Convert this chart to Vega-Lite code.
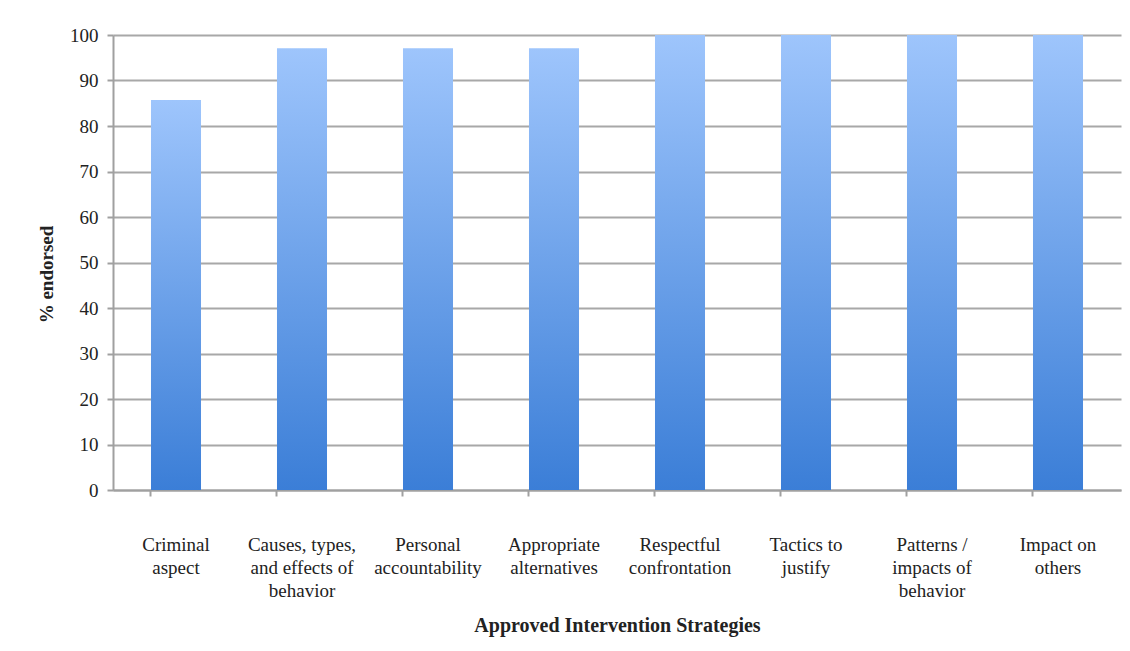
{
  "$schema": "https://vega.github.io/schema/vega-lite/v6.json",
  "autosize": "none",
  "width": 1008,
  "height": 455,
  "padding": {"left": 113, "top": 35, "right": 9, "bottom": 161},
  "background": "white",
  "config": {
    "view": {"stroke": null},
    "font": "Liberation Serif"
  },
  "data": {
    "values": [
      {"strategy": "Criminal|aspect", "pct": 85.7},
      {"strategy": "Causes, types,|and effects of|behavior", "pct": 97.1},
      {"strategy": "Personal|accountability", "pct": 97.1},
      {"strategy": "Appropriate|alternatives", "pct": 97.1},
      {"strategy": "Respectful|confrontation", "pct": 100},
      {"strategy": "Tactics to|justify", "pct": 100},
      {"strategy": "Patterns /|impacts of|behavior", "pct": 100},
      {"strategy": "Impact on|others", "pct": 100}
    ]
  },
  "mark": {
    "type": "bar",
    "color": {
      "gradient": "linear",
      "x1": 0, "y1": 0, "x2": 0, "y2": 1,
      "stops": [
        {"offset": 0, "color": "#9ec5fc"},
        {"offset": 1, "color": "#3b7ed7"}
      ]
    }
  },
  "encoding": {
    "x": {
      "field": "strategy",
      "type": "nominal",
      "sort": null,
      "scale": {"paddingInner": 0.603, "paddingOuter": 0.3015},
      "axis": {
        "title": "Approved Intervention Strategies",
        "titleFont": "Liberation Serif",
        "titleFontSize": 20,
        "titleFontWeight": "bold",
        "titleColor": "#222222",
        "titlePadding": 15,
        "labelExpr": "split(datum.value, '|')",
        "labelAngle": 0,
        "labelFont": "Liberation Serif",
        "labelFontSize": 19,
        "labelColor": "#222222",
        "labelLineHeight": 23,
        "labelPadding": 39,
        "labelBaseline": "top",
        "bandPosition": 0,
        "ticks": true,
        "tickSize": 6,
        "tickColor": "#a0a0a0",
        "tickWidth": 2,
        "domainColor": "#a0a0a0",
        "domainWidth": 2,
        "grid": false
      }
    },
    "y": {
      "field": "pct",
      "type": "quantitative",
      "scale": {"domain": [0, 100], "nice": false},
      "axis": {
        "title": "% endorsed",
        "titleFont": "Liberation Serif",
        "titleFontSize": 19,
        "titleFontWeight": "bold",
        "titleColor": "#222222",
        "titleX": -57,
        "titleY": 239,
        "titleBaseline": "bottom",
        "titleAngle": -90,
        "titleAlign": "center",
        "values": [0, 10, 20, 30, 40, 50, 60, 70, 80, 90, 100],
        "labelFont": "Liberation Serif",
        "labelFontSize": 19,
        "labelColor": "#222222",
        "labelPadding": 9,
        "tickSize": 6,
        "tickColor": "#a0a0a0",
        "tickWidth": 2,
        "domainColor": "#a0a0a0",
        "domainWidth": 2,
        "grid": true,
        "gridColor": "#a8a8a8",
        "gridWidth": 2
      }
    }
  }
}
